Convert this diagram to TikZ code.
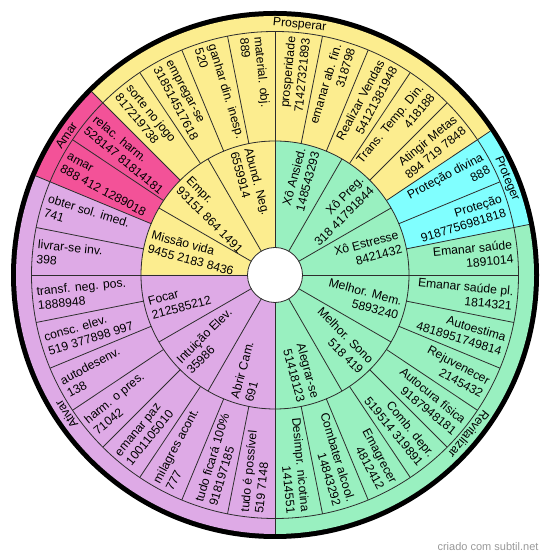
\documentclass[tikz,border=0pt]{standalone}
\usepackage{fontspec}
\setmainfont{Liberation Sans}
\definecolor{cy}{RGB}{252,237,143}
\definecolor{cg}{RGB}{153,240,192}
\definecolor{cl}{RGB}{222,170,230}
\definecolor{cp}{RGB}{243,82,152}
\definecolor{cc}{RGB}{128,255,255}
\definecolor{ln}{RGB}{45,45,45}
\newcommand\wedgefill[5]{%
  \fill[#1] (#2:#4pt) arc[start angle=#2, end angle=#3, radius=#4pt] -- (#3:#5pt) arc[start angle=#3, end angle=#2, radius=#5pt] -- cycle;}
\newcommand\radlabel[4]{%
  \pgfmathtruncatemacro\rside{cos(#2)>0}%
  \ifnum\rside=1
    \node[lbl, anchor=east, align=right, rotate=#2] (#1) at (#2:#3pt) {#4};
  \else
    \node[lbl, anchor=west, align=left, rotate=#2-180] (#1) at (#2:#3pt) {#4};
  \fi}
\begin{document}
\begin{tikzpicture}[x=1pt,y=1pt,
  lbl/.style={inner sep=0pt, font=\fontsize{12.2}{14.5}\selectfont},
  glbl/.style={inner sep=0pt, font=\fontsize{12.2}{14.5}\selectfont},
  sep/.style={draw=ln, line width=0.8pt}]
\useasboundingbox (0,0) rectangle (550,559);
\begin{scope}[shift={(275,284)}]
% black rim
\fill[black] (0,0) circle[radius=264pt];
% outer ring + group ring fills
\wedgefill{cy}{33.75}{135}{134}{259}
\wedgefill{cp}{135}{157.5}{134}{259}
\wedgefill{cl}{157.5}{270}{134}{259}
\wedgefill{cg}{270}{371.25}{134}{259}
\wedgefill{cc}{11.25}{33.75}{134}{259}
% inner ring fills
\wedgefill{cy}{90}{180}{27.5}{134}
\wedgefill{cl}{180}{270}{27.5}{134}
\wedgefill{cg}{270}{450}{27.5}{134}
% circles
\draw[sep] (0,0) circle[radius=134pt];
\draw[sep] (0,0) circle[radius=243.5pt];
\filldraw[sep, fill=white] (0,0) circle[radius=27.5pt];
% radial separators
\foreach \a in {0,30,...,330} \draw[sep] (\a:27.5pt) -- (\a:134pt);
\foreach \k [evaluate=\k as \a using \k*11.25] in {0,...,31} \draw[sep] (\a:134pt) -- (\a:243.5pt);
\foreach \a in {11.25,33.75,135,157.5,270} \draw[sep] (\a:243.5pt) -- (\a:259pt);
% inner ring labels
\radlabel{i1}{105}{129.5}{Abund. Neg.\\6559914}
\radlabel{i2}{135}{129.5}{Empr.\\93151 864 1491}
\radlabel{i3}{165}{129.5}{Missão vida\\9455 2183 8436}
\radlabel{i4}{195}{129.5}{Focar\\212585212}
\radlabel{i5}{225}{129.5}{Intuição Elev.\\35986}
\radlabel{i6}{255}{129.5}{Abrir Cam.\\691}
\radlabel{i7}{285}{129.5}{Alegrar-se\\51418123}
\radlabel{i8}{315}{129.5}{Melhor. Sono\\518 419}
\radlabel{i9}{345}{129.5}{Melhor. Mem.\\5893240}
\radlabel{i10}{15}{129.5}{Xô Estresse\\8421432}
\radlabel{i11}{45}{129.5}{Xô Preg.\\318 41791844}
\radlabel{i12}{75}{129.5}{Xô Ansied.\\148543293}
% outer ring labels
\radlabel{o1}{95.625}{239}{material. obj.\\889}
\radlabel{o2}{106.875}{239}{ganhar din. inesp.\\520}
\radlabel{o3}{118.125}{239}{empregar-se\\318514517618}
\radlabel{o4}{129.375}{239}{sorte no jogo\\817219738}
\radlabel{o5}{140.625}{239}{relac. harm.\\528147 81814181}
\radlabel{o6}{151.875}{239}{amar\\888 412 1289018}
\radlabel{o7}{163.125}{239}{obter sol. imed.\\741}
\radlabel{o8}{174.375}{239}{livrar-se inv.\\398}
\radlabel{o9}{185.625}{239}{transf. neg. pos.\\1888948}
\radlabel{o10}{196.875}{239}{consc. elev.\\519 377898 997}
\radlabel{o11}{208.125}{239}{autodesenv.\\138}
\radlabel{o12}{219.375}{239}{harm. o pres.\\71042}
\radlabel{o13}{230.625}{239}{emanar paz\\1001105010}
\radlabel{o14}{241.875}{239}{milagres acont.\\777}
\radlabel{o15}{253.125}{239}{tudo ficará 100\%\\918197185}
\radlabel{o16}{264.375}{239}{tudo é possível\\519 7148}
\radlabel{o17}{275.625}{239}{Desimpr. nicotina\\1414551}
\radlabel{o18}{286.875}{239}{Combater alcool.\\14843292}
\radlabel{o19}{298.125}{239}{Emagrecer\\4812412}
\radlabel{o20}{309.375}{239}{Comb. depr.\\519514 319891}
\radlabel{o21}{320.625}{239}{Autocura física\\9187948181}
\radlabel{o22}{331.875}{239}{Rejuvenecer\\2145432}
\radlabel{o23}{343.125}{239}{Autoestima\\4818951749814}
\radlabel{o24}{354.375}{239}{Emanar saúde pl.\\1814321}
\radlabel{o25}{5.625}{239}{Emanar saúde\\1891014}
\radlabel{o26}{16.875}{239}{Proteção\\9187756981818}
\radlabel{o27}{28.125}{239}{Proteção divina\\888}
\radlabel{o28}{39.375}{239}{Atingir Metas\\894 719 7848}
\radlabel{o29}{50.625}{239}{Trans. Temp. Din.\\418188}
\radlabel{o30}{61.875}{239}{Realizar Vendas\\54121381948}
\radlabel{o31}{73.125}{239}{emanar ab. fin.\\318798}
\radlabel{o32}{84.375}{239}{prosperidade\\71427321893}
% group labels
\node[glbl, rotate=-5.625] (gpro) at (84.375:251pt) {Prosperar};
\node[glbl, rotate=56.25] (gama) at (146.25:251pt) {Amar};
\node[glbl, rotate=123.75] (gati) at (213.75:251pt) {Ativar};
\node[glbl, rotate=230.625] (grev) at (320.625:251pt) {Revitalizar};
\node[glbl, rotate=-67.5] (gpte) at (22.5:251pt) {Proteger};
\end{scope}
\node[inner sep=0pt, font=\fontsize{11}{13}\selectfont, text=black!40] (wm) at (488,12) {criado com subtil.net};
\end{tikzpicture}
\end{document}
